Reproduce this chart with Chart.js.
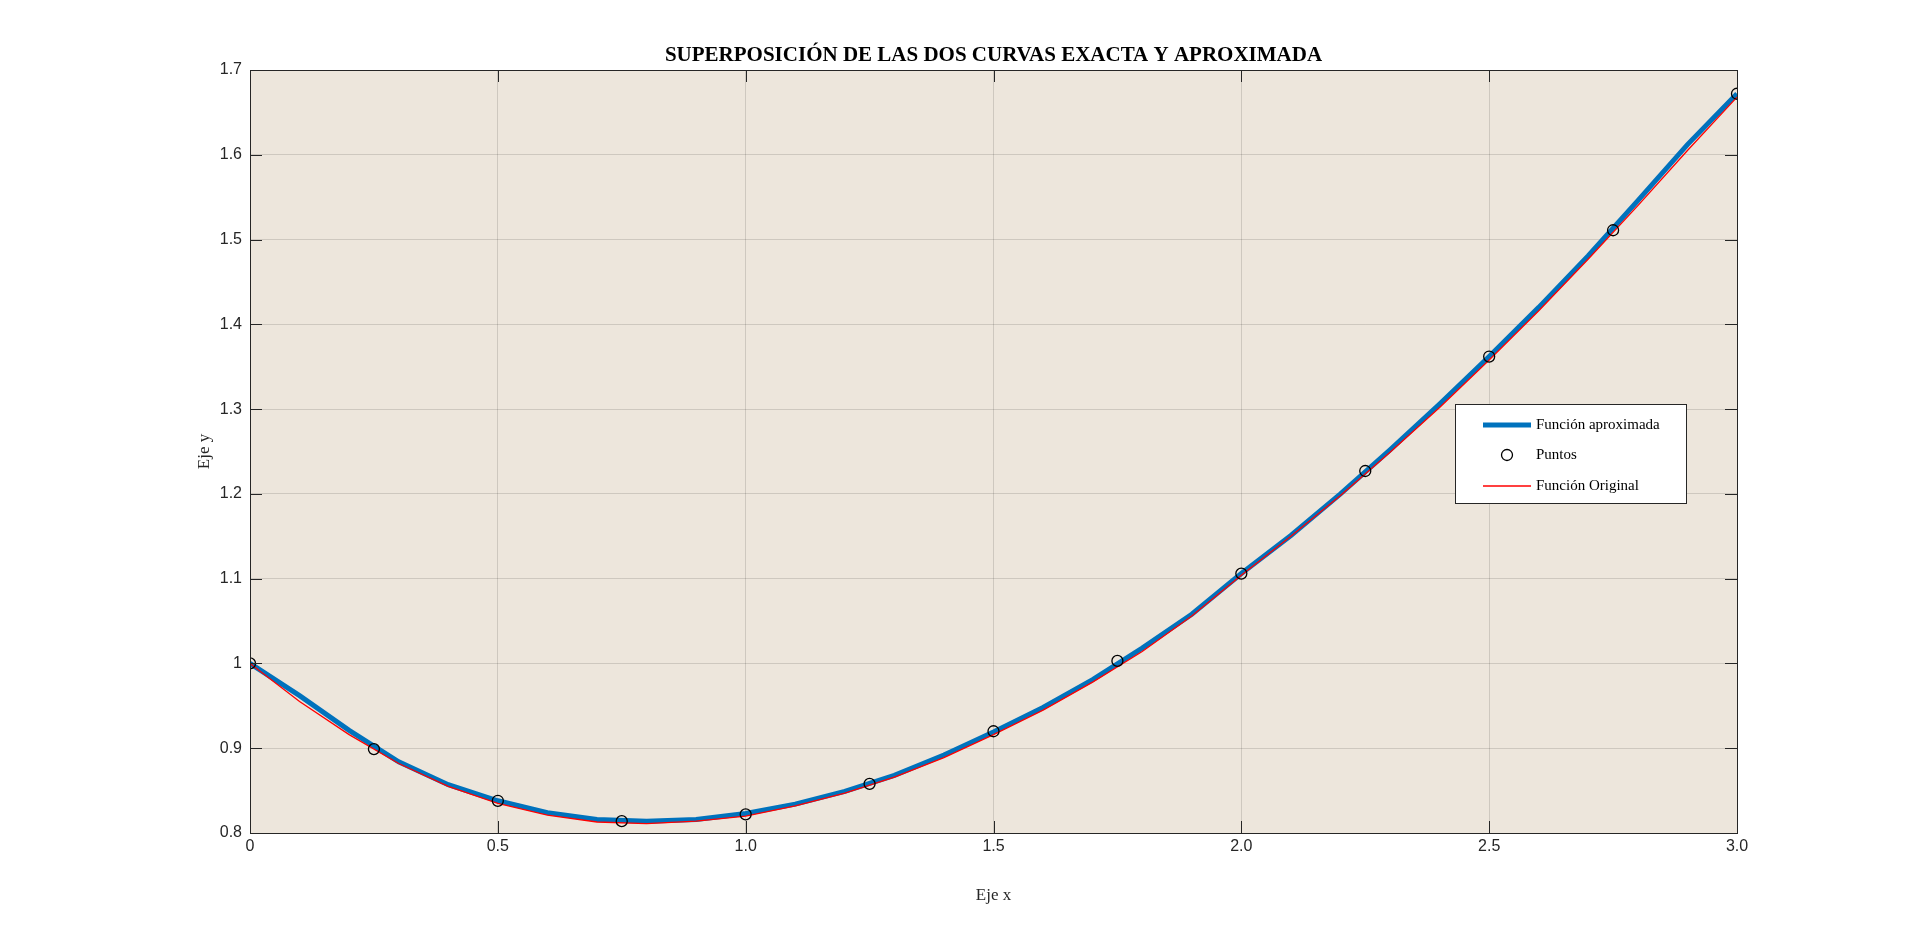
<!DOCTYPE html>
<html>
<head>
<meta charset="utf-8">
<script src="https://cdn.jsdelivr.net/npm/chart.js@4/dist/chart.umd.min.js"></script>
<style>
html,body{margin:0;padding:0;background:#fff;}
#wrap{width:1920px;height:936px;}
</style>
</head>
<body>
<div id="wrap"><canvas id="myChart" width="1920" height="936"></canvas></div>
<script>
// datos
const xPuntos = [0, 0.25, 0.5, 0.75, 1, 1.25, 1.5, 1.75, 2, 2.25, 2.5, 2.75, 3];
const yPuntos = [1, 0.899, 0.838, 0.814, 0.822, 0.858, 0.920, 1.003, 1.106, 1.227, 1.362, 1.511, 1.672];
const xCurva = [0,0.1,0.2,0.3,0.4,0.5,0.6,0.7,0.8,0.9,1,1.1,1.2,1.3,1.4,1.5,1.6,1.7,1.8,1.9,2,2.1,2.2,2.3,2.4,2.5,2.6,2.7,2.8,2.9,3];
const yAprox = [1,0.962,0.921,0.884,0.857,0.838,0.824,0.816,0.814,0.816,0.823,0.834,0.849,0.868,0.892,0.919,0.948,0.981,1.018,1.058,1.106,1.151,1.200,1.252,1.306,1.362,1.420,1.481,1.546,1.612,1.672];
const yOriginal = [1,0.955,0.916,0.882,0.855,0.835,0.821,0.813,0.811,0.814,0.820,0.832,0.847,0.866,0.889,0.916,0.945,0.978,1.014,1.056,1.104,1.150,1.198,1.249,1.302,1.358,1.416,1.477,1.540,1.605,1.668];

function pares(xs, ys) { return xs.map((x, i) => ({x: x, y: ys[i]})); }

const fondo = {
    id: 'fondo',
    beforeDraw(chart) {
        const {ctx, chartArea: a} = chart;
        ctx.save();
        ctx.fillStyle = '#ede6dc';
        ctx.fillRect(a.left, a.top, a.right - a.left, a.bottom - a.top);
        ctx.restore();
    },
    afterDraw(chart) {
        const {ctx, chartArea: a} = chart;
        ctx.save();
        ctx.strokeStyle = '#262626';
        ctx.lineWidth = 1;
        ctx.strokeRect(a.left + 0.5, a.top + 0.5, a.right - a.left, a.bottom - a.top);
        // ticks interiores
        const sx = chart.scales.x, sy = chart.scales.y;
        ctx.beginPath();
        sx.ticks.forEach(t => {
            const p = Math.round(sx.getPixelForValue(t.value)) + 0.5;
            ctx.moveTo(p, a.bottom); ctx.lineTo(p, a.bottom - 12);
            ctx.moveTo(p, a.top); ctx.lineTo(p, a.top + 12);
        });
        sy.ticks.forEach(t => {
            const p = Math.round(sy.getPixelForValue(t.value)) + 0.5;
            ctx.moveTo(a.left, p); ctx.lineTo(a.left + 12, p);
            ctx.moveTo(a.right, p); ctx.lineTo(a.right - 12, p);
        });
        ctx.stroke();
        // titulo
        ctx.fillStyle = '#000';
        ctx.font = 'bold 21px "Liberation Serif"';
        ctx.textAlign = 'center';
        ctx.textBaseline = 'bottom';
        ctx.fillText('SUPERPOSICIÓN DE LAS DOS CURVAS EXACTA Y APROXIMADA', (a.left + a.right) / 2, a.top - 4);
        // leyenda
        const lx = 1455, ly = 404, lw = 231, lh = 99;
        ctx.fillStyle = '#fff';
        ctx.fillRect(lx, ly, lw, lh);
        ctx.strokeStyle = '#262626';
        ctx.strokeRect(lx + 0.5, ly + 0.5, lw, lh);
        ctx.font = '15px "Liberation Serif"';
        ctx.textAlign = 'left';
        ctx.textBaseline = 'middle';
        const filas = [ly + 21, ly + 51, ly + 82];
        ctx.strokeStyle = '#0072bd'; ctx.lineWidth = 5;
        ctx.beginPath(); ctx.moveTo(lx + 28, filas[0]); ctx.lineTo(lx + 76, filas[0]); ctx.stroke();
        ctx.strokeStyle = '#000'; ctx.lineWidth = 1.3;
        ctx.beginPath(); ctx.arc(lx + 52, filas[1], 5.5, 0, Math.PI * 2); ctx.stroke();
        ctx.strokeStyle = '#ff0000'; ctx.lineWidth = 1.3;
        ctx.beginPath(); ctx.moveTo(lx + 28, filas[2]); ctx.lineTo(lx + 76, filas[2]); ctx.stroke();
        ctx.fillStyle = '#000';
        ctx.fillText('Función aproximada', lx + 81, filas[0]);
        ctx.fillText('Puntos', lx + 81, filas[1]);
        ctx.fillText('Función Original', lx + 81, filas[2]);
        ctx.restore();
    }
};

new Chart('myChart', {
    type: 'scatter',
    data: {
        datasets: [
            { label: 'Función aproximada', data: pares(xCurva, yAprox), showLine: true,
              borderColor: '#0072bd', borderWidth: 5, pointRadius: 0, order: 3 },
            { label: 'Función Original', data: pares(xCurva, yOriginal), showLine: true,
              borderColor: '#ff0000', borderWidth: 1.3, pointRadius: 0, order: 2 },
            { label: 'Puntos', data: pares(xPuntos, yPuntos), showLine: false,
              borderColor: '#000', borderWidth: 1.3, backgroundColor: 'rgba(0,0,0,0)',
              pointRadius: 5.5, order: 1 }
        ]
    },
    options: {
        responsive: false,
        animation: false,
        layout: { padding: { left: 190, right: 183, top: 70, bottom: 26 } },
        plugins: { legend: { display: false }, tooltip: { enabled: false } },
        scales: {
            x: {
                type: 'linear', min: 0, max: 3,
                ticks: { stepSize: 0.5, color: '#262626', font: { family: 'Liberation Sans', size: 16 }, padding: 4 },
                grid: { color: 'rgba(0,0,0,0.13)', drawTicks: false },
                border: { display: false },
                title: { display: true, text: 'Eje x', color: '#262626', font: { family: 'Liberation Serif', size: 17 } },
                afterFit(s) { s.height = 77; }
            },
            y: {
                min: 0.8, max: 1.7,
                ticks: { stepSize: 0.1, color: '#262626', font: { family: 'Liberation Sans', size: 16 }, padding: 8,
                         callback: v => Math.round(v * 10) / 10 },
                grid: { color: 'rgba(0,0,0,0.13)', drawTicks: false },
                border: { display: false },
                title: { display: true, text: 'Eje y', color: '#262626', font: { family: 'Liberation Serif', size: 17 } },
                afterFit(s) { s.width = 60; }
            }
        }
    },
    plugins: [fondo]
});
</script>
</body>
</html>
